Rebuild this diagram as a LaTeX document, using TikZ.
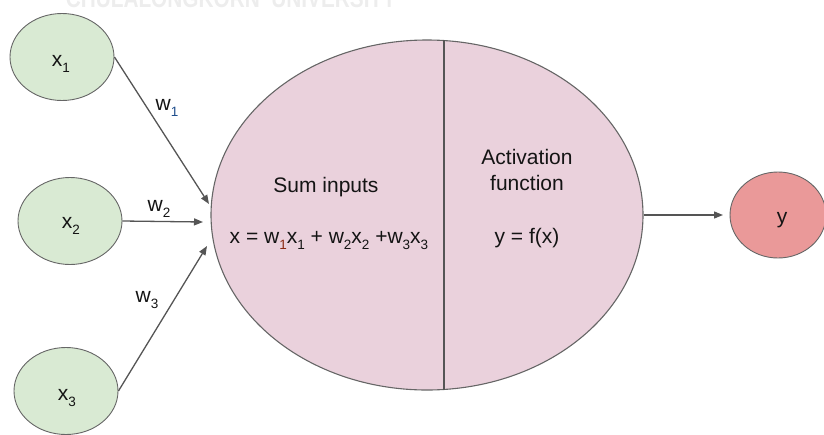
\documentclass[tikz,border=0pt]{standalone}
\usepackage{fontspec}
\setmainfont{Liberation Sans}
\usetikzlibrary{shapes.geometric,arrows.meta,calc}
\definecolor{ingreen}{HTML}{D9EAD3}
\definecolor{bodypink}{HTML}{EAD1DC}
\definecolor{outred}{HTML}{EA9999}
\definecolor{edgegray}{HTML}{666666}
\definecolor{arrowgray}{HTML}{555555}
\definecolor{txt}{HTML}{141414}
\definecolor{subblue}{HTML}{1F4E8C}
\definecolor{subred}{HTML}{8B2A12}
\newcommand\lowsub[1]{\raisebox{-6.5pt}{\fontsize{13.5}{13.5}\selectfont #1}}
\tikzset{
  inball/.style={ellipse, draw=edgegray, line width=0.9pt, fill=ingreen, minimum width=104pt, minimum height=87pt, inner sep=0pt},
  outball/.style={ellipse, draw=edgegray, line width=0.9pt, fill=outred, minimum width=96pt, minimum height=86pt, inner sep=0pt},
  bodyball/.style={ellipse, draw=edgegray, line width=1.1pt, fill=bodypink, minimum width=432pt, minimum height=350pt, inner sep=0pt},
  lbl/.style={text=txt, font=\fontsize{21}{23}\selectfont, inner sep=0pt},
  wire/.style={draw=arrowgray, line width=1.3pt, -{Triangle[length=9pt,width=7pt]}},
}
\begin{document}
\begin{tikzpicture}[x=1pt,y=-1pt]
\useasboundingbox (0,0) rectangle (824,434);
% watermark (cut off at top)
\node[anchor=base, inner sep=0pt, text=gray!14, font=\bfseries\fontsize{26}{26}\selectfont, xscale=0.8] (mark) at (231,7) {CHULALONGKORN\ \ UNIVERSITY};
% nodes
\node[bodyball] (body) at (427,215) {};
\draw[draw=arrowgray, line width=1.4pt] ($(body.center)+(17,-174.6)$) -- ($(body.center)+(17,174.6)$);
\node[inball] (x1) at (62,57) {};
\node[inball] (x2) at (70,221) {};
\node[inball] (x3) at (66,391) {};
\node[outball] (y) at (778,215) {};
% texts
\node[lbl, anchor=base] (t1) at (61,66) {x\lowsub{1}};
\node[lbl, anchor=base] (t2) at (71,228) {x\lowsub{2}};
\node[lbl, anchor=base] (t3) at (67,400) {x\lowsub{3}};
\node[lbl, anchor=base] (ty) at (782,223) {y};
\node[lbl, anchor=base] (w1) at (167,110) {w\lowsub{\textcolor{subblue}{1}}};
\node[lbl, anchor=base] (w2) at (159,211) {w\lowsub{2}};
\node[lbl, anchor=base] (w3) at (147,302) {w\lowsub{3}};
\node[lbl, anchor=base] (sum) at (326,192) {Sum inputs};
\node[lbl, anchor=base] (form) at (329,243) {x = w\lowsub{\textcolor{subred}{1}}x\lowsub{1} + w\lowsub{2}x\lowsub{2} +w\lowsub{3}x\lowsub{3}};
\node[lbl, anchor=base] (act1) at (527,164) {Activation};
\node[lbl, anchor=base] (act2) at (527,190) {function};
\node[lbl, anchor=base] (fx) at (527,243) {y = f(x)};
% connectors
\coordinate (e1) at (209,204);
\coordinate (e2) at (203,222);
\coordinate (e3) at (207,246);
\coordinate (e4) at (723,215);
\draw[wire] (x1.east) -- (e1);
\draw[wire] (x2.east) -- (e2);
\draw[wire] (x3.east) -- (e3);
\draw[wire] (body.east) -- (e4);
\end{tikzpicture}
\end{document}
